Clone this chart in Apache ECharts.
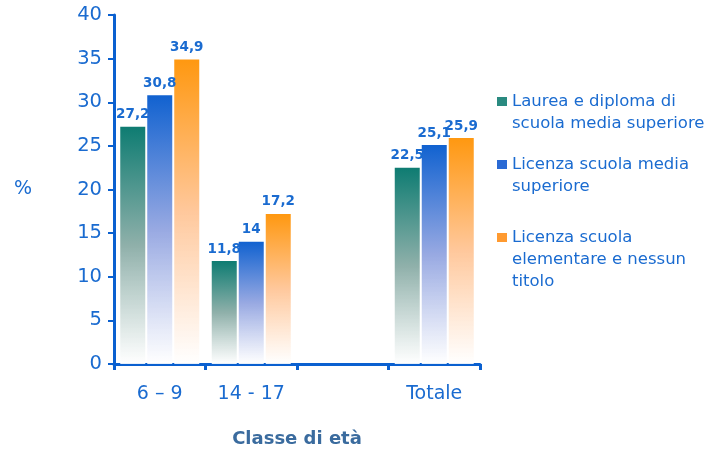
<!DOCTYPE html>
<html>
<head>
<meta charset="utf-8">
<script src="https://cdn.jsdelivr.net/npm/echarts@6/dist/echarts.min.js"></script>
<style>html,body{margin:0;padding:0;background:#fff}#c{width:708px;height:452px}</style>
</head>
<body>
<div id="c"></div>
<script>
var categories = ['6 \u2013 9', '14 - 17', '', 'Totale'];
var seriesNames = [
  'Laurea e diploma di\nscuola media superiore',
  'Licenza scuola media\nsuperiore',
  'Licenza scuola\nelementare e nessun\ntitolo'
];
var laurea = [27.2, 11.8, null, 22.5];
var mediaSup = [30.8, 14, null, 25.1];
var elementare = [34.9, 17.2, null, 25.9];
var yTicks = [0, 5, 10, 15, 20, 25, 30, 35, 40];

var FONT = 'DejaVu Sans';
var BLUE = '#1a6bd0';
function grad(c0, c1) {
  return new echarts.graphic.LinearGradient(0, 0, 0, 1, [
    {offset: 0, color: c0}, {offset: 0.5, color: c1}, {offset: 1, color: 'rgba(255,255,255,0.9)'}
  ]);
}
var colors = [grad('#0e7c72', '#8fb0aa'), grad('#1162d0', '#98a9e2'), grad('#ff9810', '#ffc89c')];
var datas = [laurea, mediaSup, elementare];

var series = datas.map(function (d, i) {
  return {
    type: 'bar', name: seriesNames[i], data: d,
    barWidth: 25, barGap: '8%',
    itemStyle: {color: colors[i]},
    label: {
      show: true, position: 'top', distance: 5,
      color: BLUE, fontFamily: FONT, fontWeight: 'bold', fontSize: 13.5,
      formatter: function (p) { return String(p.value).replace('.', ','); }
    }
  };
});

var LH = 22;
var legendTops = [91, 154, 227];
var lineCounts = [2, 2, 3];
var iconColors = ['#2a8a80', '#2a6ad4', '#ff9a30'];
var legends = seriesNames.map(function (n, i) {
  var h = 10 + (lineCounts[i] - 1) * LH;
  return {
    data: [{name: n, itemStyle: {color: iconColors[i]}}],
    left: 497, top: legendTops[i], orient: 'vertical', padding: 0,
    itemWidth: 10, itemHeight: h,
    icon: 'path://M0 0H10V9H0Z M0 ' + h + 'L0.001 ' + h,
    selectedMode: false,
    textStyle: {color: BLUE, fontFamily: FONT, fontSize: 16.5, lineHeight: LH}
  };
});

var chart = echarts.init(document.getElementById('c'));
chart.setOption({
  animation: false,
  legend: legends,
  grid: {left: 114, right: 228, top: 15, bottom: 88, containLabel: false, outerBoundsMode: 'none'},
  xAxis: {
    type: 'category', data: categories,
    axisLine: {lineStyle: {color: '#0a60d0', width: 3}},
    axisTick: {show: true, length: 6, lineStyle: {color: '#0a60d0', width: 3}},
    axisLabel: {color: BLUE, fontFamily: FONT, fontSize: 19, margin: 21},
    name: 'Classe di et\u00e0', nameLocation: 'middle', nameGap: 66,
    nameTextStyle: {color: '#3a6b9e', fontFamily: FONT, fontSize: 18, fontWeight: 'bold'}
  },
  yAxis: {
    type: 'value', min: 0, max: 40, interval: 5,
    axisLine: {show: true, lineStyle: {color: '#0a60d0', width: 3}},
    axisTick: {show: true, length: 6, lineStyle: {color: '#0a60d0', width: 2}},
    splitLine: {show: false},
    axisLabel: {color: BLUE, fontFamily: FONT, fontSize: 19.5, margin: 12,
      formatter: function (v) { return yTicks.indexOf(v) >= 0 ? String(v) : ''; }},
    name: '%', nameLocation: 'middle', nameGap: 82, nameRotate: 0,
    nameTextStyle: {color: BLUE, fontFamily: FONT, fontSize: 19}
  },
  series: series
});
</script>
</body>
</html>
